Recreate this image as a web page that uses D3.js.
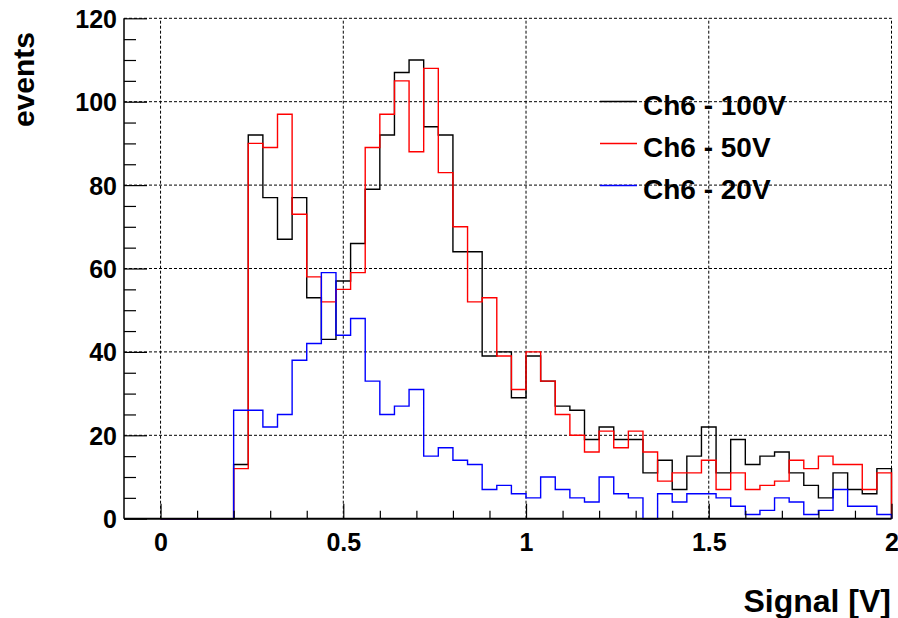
<!DOCTYPE html>
<html>
<head>
<meta charset="utf-8">
<script src="https://cdn.jsdelivr.net/npm/d3@7"></script>
<style>
  html, body { margin: 0; padding: 0; background: #fff; }
  svg { display: block; }
  text { font-family: "Liberation Sans", Arial, Helvetica, sans-serif; font-weight: bold; }
</style>
</head>
<body>
<svg id="chart" width="898" height="618"></svg>
<script>
// ---- data: 50 bins of width 0.04 from 0 to 2 ----
const binEdgesStart = 0;
const binWidth = 0.04;
const ch6_100V = [0,0,0,0,0,13,92,77,67,77,53,43,57,66,79,92,107,110,94,92,64,64,39,40,29,39,33,27,26,19,22,19,19,11,14,7,15,22,11,19,13,15,16,11,8,5,11,7,6,12];
const ch6_50V  = [0,0,0,0,0,12,90,89,97,73,58,52,55,59,89,97,105,88,108,83,70,52,53,39,31,40,33,25,20,16,21,17,21,16,9,11,11,14,7,11,7,8,9,14,12,15,13,13,7,11];
const ch6_20V  = [0,0,0,0,0,26,26,22,25,38,42,59,44,48,33,25,27,31,15,17,14,13,7,8,6,5,10,7,5,4,10,6,5,0,6,4,6,6,5,3,1,2,5,4,1,2,7,3,3,1];
const seriesNames = ["Ch6 - 100V", "Ch6 - 50V", "Ch6 - 20V"];
const seriesColors = ["#000000", "#ff0000", "#0000ff"];
const xMajorTicks = [0, 0.5, 1, 1.5, 2];
const xTickLabels = ["0", "0.5", "1", "1.5", "2"];
const yMajorTicks = [0, 20, 40, 60, 80, 100, 120];
const xTitle = "Signal [V]";
const yTitle = "events";

const svg = d3.select("#chart");
const x = d3.scaleLinear().domain([-0.1, 2]).range([124, 891.5]);
const y = d3.scaleLinear().domain([0, 120]).range([518.7, 18.3]);

// ---- grid ----
const grid = svg.append("g").attr("stroke", "#000").attr("stroke-width", 1).attr("stroke-dasharray", "3,2");
grid.selectAll("line.h").data(yMajorTicks.filter(d => d > 0)).join("line")
  .attr("x1", x(-0.1)).attr("x2", x(2))
  .attr("y1", d => y(d)).attr("y2", d => y(d));
grid.selectAll("line.v").data(xMajorTicks).join("line")
  .attr("x1", d => x(d)).attr("x2", d => x(d))
  .attr("y1", y(0)).attr("y2", y(120));

// ---- histograms ----
const allSeries = [ch6_100V, ch6_50V, ch6_20V];
const line = d3.line().x(d => x(d[0])).y(d => y(d[1])).curve(d3.curveStepAfter);
allSeries.forEach((vals, i) => {
  const pts = vals.map((v, k) => [binEdgesStart + k * binWidth, v]);
  pts.unshift([binEdgesStart, 0]);
  const end = binEdgesStart + vals.length * binWidth;
  pts.push([end, vals[vals.length - 1]]);
  pts.push([end, 0]);
  svg.append("path").datum(pts)
    .attr("fill", "none")
    .attr("stroke", seriesColors[i])
    .attr("stroke-width", 1.4)
    .attr("d", line);
});

// ---- axes ----
const xMinor = d3.range(0, 21).map(k => k / 10).filter(v => !xMajorTicks.includes(v));
const yMinor = d3.range(0, 25).map(k => k * 5).filter(v => v % 20 !== 0);

const gx = svg.append("g").attr("transform", `translate(0,${y(0)})`);
gx.call(d3.axisBottom(x).tickValues(xMinor).tickSizeInner(-8).tickSizeOuter(0).tickFormat(""));
gx.select(".domain").remove();
const gx2 = svg.append("g").attr("transform", `translate(0,${y(0)})`);
gx2.call(d3.axisBottom(x).tickValues(xMajorTicks).tickSizeInner(-15).tickSizeOuter(0)
  .tickFormat((d, i) => xTickLabels[i]).tickPadding(0));
gx2.select(".domain").attr("d", `M${x(-0.1)},0H${x(2)}`).attr("stroke-width", 2);
gx2.selectAll(".tick text").attr("y", 32).attr("dy", null)
  .attr("font-size", 25).attr("fill", "#000");

const gy = svg.append("g").attr("transform", `translate(${x(-0.1)},0)`);
gy.call(d3.axisLeft(y).tickValues(yMinor).tickSizeInner(-12).tickSizeOuter(0).tickFormat(""));
gy.select(".domain").remove();
const gy2 = svg.append("g").attr("transform", `translate(${x(-0.1)},0)`);
gy2.call(d3.axisLeft(y).tickValues(yMajorTicks).tickSizeInner(-23).tickSizeOuter(0).tickPadding(7));
gy2.select(".domain").attr("d", `M0,${y(0)}V${y(120)}`).attr("stroke-width", 1.5);
gy2.selectAll(".tick text").attr("font-size", 25).attr("fill", "#000").attr("dy", "0.36em");
svg.selectAll(".tick line").attr("stroke", "#000").attr("stroke-width", 1.2);

// ---- titles ----
svg.append("text").attr("x", 891).attr("y", 612).attr("text-anchor", "end")
  .attr("font-size", 32).text(xTitle);
svg.append("text").attr("transform", "translate(33.5,32) rotate(-90)").attr("text-anchor", "end")
  .attr("font-size", 30).text(yTitle);

// ---- legend ----
const legend = svg.append("g");
const lgBase = [115, 157, 199];
seriesNames.forEach((name, i) => {
  legend.append("line").attr("x1", 600).attr("x2", 637)
    .attr("y1", lgBase[i] - 13.5).attr("y2", lgBase[i] - 13.5)
    .attr("stroke", seriesColors[i]).attr("stroke-width", 1.4);
  legend.append("text").attr("x", 643).attr("y", lgBase[i])
    .attr("font-size", 28).attr("fill", "#000").text(name);
});
</script>
</body>
</html>
